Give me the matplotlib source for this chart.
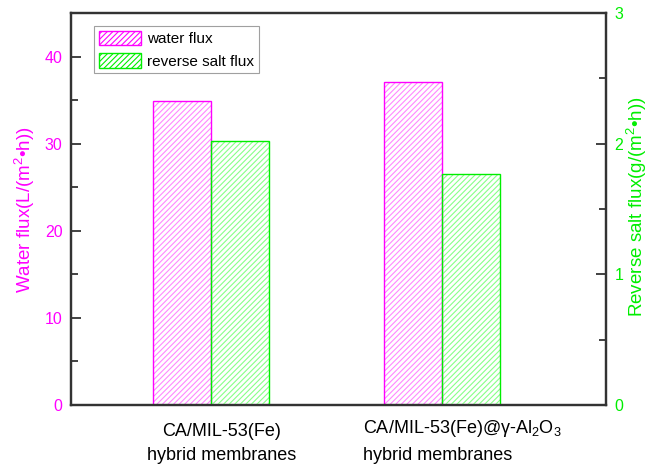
import matplotlib
matplotlib.use("Agg")
import matplotlib.pyplot as plt
from matplotlib.patches import Patch
from matplotlib.ticker import MultipleLocator

plt.rcParams['font.family'] = ['Liberation Sans', 'DejaVu Sans']
plt.rcParams['mathtext.fontset'] = 'custom'
plt.rcParams['mathtext.rm'] = 'Liberation Sans'
plt.rcParams['mathtext.it'] = 'Liberation Sans:italic'
plt.rcParams['hatch.linewidth'] = 0.8

cat_line1 = ["CA/MIL-53(Fe)", "CA/MIL-53(Fe)@γ-Al$_2$O$_3$"]
cat_line2 = ["hybrid membranes", "hybrid membranes"]
water_flux = [34.9, 37.1]
salt_flux = [2.02, 1.77]

MAG = '#ff00ff'
GRN = '#00ee00'
MAG_H = '#ff88ff'
GRN_H = '#88ff88'
W, H = 651, 471

fig = plt.figure(figsize=(6.51, 4.71), dpi=100)
ax = fig.add_axes([71 / W, 1 - 405 / H, 535 / W, 392 / H])
ax2 = ax.twinx()

x = [1, 2]
w = 0.25
for xi, v in zip(x, water_flux):
    ax.bar(xi - w / 2, v, w, facecolor='none', edgecolor=MAG_H, hatch='//////', linewidth=0)
    ax.bar(xi - w / 2, v, w, facecolor='none', edgecolor=MAG, linewidth=1.0)
for xi, v in zip(x, salt_flux):
    ax2.bar(xi + w / 2, v, w, facecolor='none', edgecolor=GRN_H, hatch='//////', linewidth=0)
    ax2.bar(xi + w / 2, v, w, facecolor='none', edgecolor=GRN, linewidth=1.0)

ax.set_xlim(0.394, 2.71)
ax.set_ylim(0, 45)
ax2.set_ylim(0, 3)

ax.yaxis.set_major_locator(MultipleLocator(10))
ax.yaxis.set_minor_locator(MultipleLocator(5))
ax2.yaxis.set_major_locator(MultipleLocator(1))
ax2.yaxis.set_minor_locator(MultipleLocator(0.5))

for a, col in ((ax, MAG), (ax2, GRN)):
    a.tick_params(axis='y', which='major', direction='in', length=7, width=1.3,
                  color='#333333', labelcolor=col, labelsize=11.5, pad=6)
    a.tick_params(axis='y', which='minor', direction='in', length=5, width=1.3,
                  color='#333333')
    for sp in a.spines.values():
        sp.set_linewidth(1.6)
        sp.set_color('#333333')

ax.set_xticks([])

fig.text(25 / W, 1 - 210 / H, "Water flux(L/(m$^2$•h))", color=MAG, fontsize=13.5,
         rotation=90, ha='center', va='center')
fig.text(637 / W, 1 - 207 / H, "Reverse salt flux(g/(m$^2$•h))", color=GRN, fontsize=13.5,
         rotation=90, ha='center', va='center')

# category labels
fig.text(222 / W, 1 - 432 / H, cat_line1[0], ha='center', va='center', fontsize=13)
fig.text(222 / W, 1 - 455 / H, cat_line2[0], ha='center', va='center', fontsize=13)
fig.text(363 / W, 1 - 433 / H, cat_line1[1], ha='left', va='baseline', fontsize=13)
fig.text(363 / W, 1 - 455 / H, cat_line2[1], ha='left', va='center', fontsize=13)

handles = [Patch(facecolor='none', edgecolor=MAG, hatch='//////', label='water flux'),
           Patch(facecolor='none', edgecolor=GRN, hatch='//////', label='reverse salt flux')]
leg = ax.legend(handles=handles, loc='upper left', bbox_to_anchor=(23 / 535, 1 - 13 / 392),
                borderaxespad=0, fontsize=11, frameon=True, fancybox=False,
                edgecolor='#888888', handlelength=2.8, handleheight=1.1, borderpad=0.3,
                labelspacing=0.45, handletextpad=0.4)
leg.get_frame().set_linewidth(0.8)

fig.savefig("out.png", dpi=100)
